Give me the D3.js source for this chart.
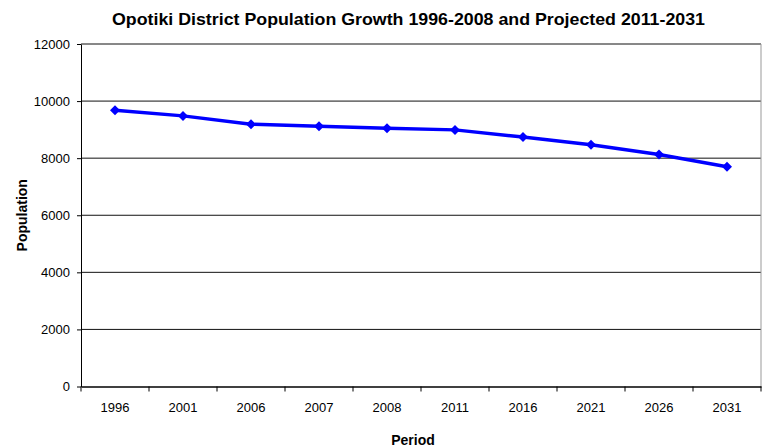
<!DOCTYPE html>
<html><head><meta charset="utf-8">
<script src="https://cdn.jsdelivr.net/npm/d3@7"></script>
<style>body{margin:0;background:#fff}svg{display:block}text{font-family:"Liberation Sans",Arial,sans-serif}</style>
</head><body>
<script>
const periods = ["1996","2001","2006","2007","2008","2011","2016","2021","2026","2031"];
const population = [9680, 9480, 9190, 9120, 9050, 8990, 8740, 8470, 8130, 7700];
const yTicks = [0, 2000, 4000, 6000, 8000, 10000, 12000];
const title = "Opotiki District Population Growth 1996-2008 and Projected 2011-2031";

const W = 765, H = 448;
const m = {left: 81, right: 4, top: 44, bottom: 61.5};
const svg = d3.select("body").append("svg").attr("width", W).attr("height", H);

const x = d3.scaleBand().domain(periods).range([m.left, W - m.right]);
const y = d3.scaleLinear().domain([0, 12000]).range([H - m.bottom, m.top]);

// gridlines
svg.append("g").selectAll("line").data(yTicks.filter(d => d > 0)).join("line")
  .attr("x1", m.left).attr("x2", W - m.right)
  .attr("y1", d => y(d)).attr("y2", d => y(d))
  .attr("stroke", "#111").attr("stroke-width", 1);
// right border
svg.append("line").attr("x1", W - m.right).attr("x2", W - m.right)
  .attr("y1", m.top).attr("y2", y(0)).attr("stroke", "#999").attr("stroke-width", 1);

// y axis
const yAxis = svg.append("g").attr("transform", `translate(${m.left},0)`)
  .call(d3.axisLeft(y).tickValues(yTicks).tickSize(4).tickPadding(7).tickSizeOuter(0).tickFormat(d3.format("d")));
yAxis.select(".domain").attr("stroke", "#000");
yAxis.selectAll("text").attr("font-size", 13).attr("fill", "#000");

// x axis
const xAxis = svg.append("g").attr("transform", `translate(0,${y(0)})`)
  .call(d3.axisBottom(x).tickSize(0));
xAxis.select(".domain").attr("stroke", "#000").attr("stroke-width", 1.5);
xAxis.selectAll("text").attr("font-size", 13).attr("fill", "#000").attr("y", 16).attr("dy", "0.71em");
// x tick marks at band boundaries
const bounds = periods.map(p => x(p)).concat([x(periods[periods.length - 1]) + x.bandwidth()]);
svg.append("g").selectAll("line").data(bounds).join("line")
  .attr("x1", d => d).attr("x2", d => d)
  .attr("y1", y(0)).attr("y2", y(0) + 5).attr("stroke", "#000");

// line
const line = d3.line().x((d, i) => x(periods[i]) + x.bandwidth() / 2).y(d => y(d));
svg.append("path").datum(population).attr("d", line)
  .attr("fill", "none").attr("stroke", "#0000ff").attr("stroke-width", 3.4);
svg.append("g").selectAll("path").data(population).join("path")
  .attr("d", d3.symbol().type(d3.symbolDiamond2).size(64))
  .attr("transform", (d, i) => `translate(${x(periods[i]) + x.bandwidth() / 2},${y(d)})`)
  .attr("fill", "#0000ff");

// titles
svg.append("text").attr("x", 112).attr("y", 24.5)
  .attr("textLength", 593).attr("lengthAdjust", "spacingAndGlyphs")
  .attr("font-size", 17).attr("font-weight", "bold").text(title);
svg.append("text").attr("transform", `translate(27,${(m.top + y(0)) / 2}) rotate(-90)`)
  .attr("text-anchor", "middle").attr("font-size", 14).attr("font-weight", "bold").text("Population");
svg.append("text").attr("x", 413).attr("y", 445).attr("text-anchor", "middle")
  .attr("font-size", 14).attr("font-weight", "bold").text("Period");
</script>
</body></html>
